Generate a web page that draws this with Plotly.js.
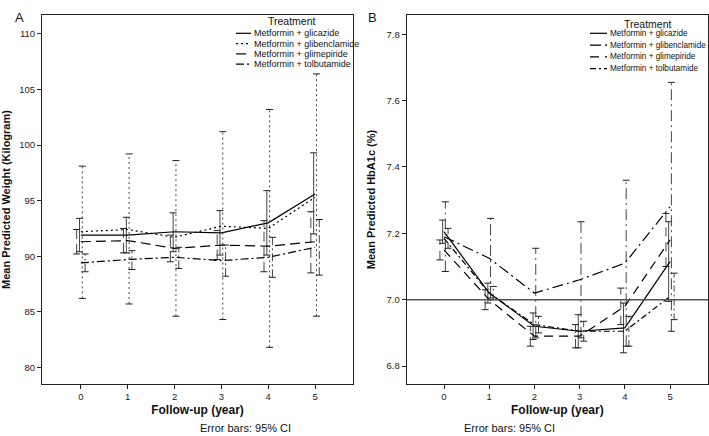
<!DOCTYPE html>
<html><head><meta charset="utf-8">
<script src="https://cdn.plot.ly/plotly-3.0.1.min.js"></script>
<style>html,body{margin:0;padding:0;background:#fff}#chart{width:709px;height:436px}</style>
</head><body><div id="chart"></div>
<script>
// ---------- data ----------
const years = [0, 1, 2, 3, 4, 5];
const yearLabels = ['0', '1', '2', '3', '4', '5'];
const treatments = ['Metformin + glicazide', 'Metformin + glibenclamide', 'Metformin + glimepiride', 'Metformin + tolbutamide'];

// Panel A: weight (kg)
const wGlicazide = [91.9, 91.9, 92.2, 92.1, 93.0, 95.6];
const wGlicazideLo = [90.4, 90.3, 90.4, 90.1, 90.1, 92.0];
const wGlicazideHi = [93.4, 93.5, 93.9, 94.1, 95.9, 99.3];
const wGlibenclamide = [92.2, 92.4, 91.7, 92.7, 92.5, 95.3];
const wGlibenclamideLo = [86.2, 85.7, 84.6, 84.3, 81.8, 84.6];
const wGlibenclamideHi = [98.1, 99.2, 98.6, 101.2, 103.2, 106.4];
const wGlimepiride = [91.3, 91.4, 90.7, 91.0, 90.9, 91.3];
const wGlimepirideLo = [90.2, 90.3, 89.5, 89.7, 88.6, 88.5];
const wGlimepirideHi = [92.4, 92.5, 91.9, 92.3, 93.2, 94.0];
const wTolbutamide = [89.4, 89.7, 89.9, 89.6, 89.9, 90.8];
const wTolbutamideLo = [88.6, 88.8, 88.9, 88.2, 88.1, 88.3];
const wTolbutamideHi = [90.2, 90.5, 90.8, 91.0, 91.7, 93.3];

// Panel B: HbA1c (%)
const hGlicazide = [7.205, 7.02, 6.92, 6.905, 6.915, 7.115];
const hGlicazideLo = [7.17, 6.99, 6.88, 6.855, 6.84, 6.995];
const hGlicazideHi = [7.24, 7.05, 6.96, 6.955, 6.99, 7.235];
const hGlibenclamide = [7.19, 7.125, 7.02, 7.06, 7.11, 7.28];
const hGlibenclamideLo = [7.085, 7.005, 6.885, 6.885, 6.86, 6.905];
const hGlibenclamideHi = [7.295, 7.245, 7.155, 7.235, 7.36, 7.655];
const hGlimepiride = [7.15, 7.0, 6.89, 6.89, 6.98, 7.18];
const hGlimepirideLo = [7.12, 6.97, 6.86, 6.855, 6.925, 7.1];
const hGlimepirideHi = [7.18, 7.03, 6.92, 6.925, 7.035, 7.26];
const hTolbutamide = [7.185, 7.02, 6.925, 6.905, 6.905, 7.01];
const hTolbutamideLo = [7.155, 7.0, 6.9, 6.875, 6.86, 6.94];
const hTolbutamideHi = [7.215, 7.04, 6.95, 6.935, 6.95, 7.08];
const hbRefLine = 7.0;

// ---------- styles ----------
const FONT = '"Liberation Sans", Arial, sans-serif';
const dodge = [-0.03, 0.03, -0.09, 0.09];
const dashA = ['solid', '2px,3px', '10px,5px', '8px,3px,2px,3px'];
const dashB = ['solid', '11px,4px,2px,4px', '9px,6px', '6px,3px,2px,3px'];
const errColor = '#444';

const panelA = [[wGlicazide, wGlicazideLo, wGlicazideHi], [wGlibenclamide, wGlibenclamideLo, wGlibenclamideHi],
                [wGlimepiride, wGlimepirideLo, wGlimepirideHi], [wTolbutamide, wTolbutamideLo, wTolbutamideHi]];
const panelB = [[hGlicazide, hGlicazideLo, hGlicazideHi], [hGlibenclamide, hGlibenclamideLo, hGlibenclamideHi],
                [hGlimepiride, hGlimepirideLo, hGlimepirideHi], [hTolbutamide, hTolbutamideLo, hTolbutamideHi]];

const traces = [];
function addPanel(data, dashes, xa, ya) {
  data.forEach((s, k) => {
    const [m, lo, hi] = s;
    const sx = [], sy = [], cx = [], cy = [];
    years.forEach((yr, i) => {
      sx.push(yr + dodge[k], yr + dodge[k], null); sy.push(lo[i], hi[i], null);
      cx.push(yr + dodge[k], yr + dodge[k]); cy.push(lo[i], hi[i]);
    });
    traces.push({x: sx, y: sy, xaxis: xa, yaxis: ya, mode: 'lines', showlegend: false, hoverinfo: 'skip',
      line: {color: errColor, width: 1, dash: dashes[k]}});
    traces.push({x: cx, y: cy, xaxis: xa, yaxis: ya, mode: 'markers', showlegend: false, hoverinfo: 'skip',
      marker: {symbol: 'line-ew', size: 5, line: {color: '#222', width: 1}}});
    traces.push({x: years, y: m, xaxis: xa, yaxis: ya, mode: 'lines', name: treatments[k], showlegend: false,
      line: {color: '#000', width: 1.2, dash: dashes[k]}});
  });
}
addPanel(panelA, dashA, 'x', 'y');
addPanel(panelB, dashB, 'x2', 'y2');

const W = 709, H = 436, mT = 15, mB = 52;
const PH = H - mT - mB;
const px = x => x / W;
const py = y => (H - mB - y) / PH;

const axisBase = {showline: true, mirror: true, linecolor: '#222', linewidth: 1, showgrid: false, zeroline: false,
  ticks: 'outside', ticklen: 4, tickcolor: '#222', tickfont: {family: FONT, size: 9.5, color: '#222'}};

const annotations = [];
const shapes = [];
function legend(tx, ty, sx0, sx1, textX, y0, dy, dashes, fs) {
  annotations.push({xref: 'paper', yref: 'paper', x: px(tx), y: py(ty), text: 'Treatment', showarrow: false,
    xanchor: 'center', yanchor: 'middle', font: {family: FONT, size: 10.5, color: '#111'}});
  treatments.forEach((t, k) => {
    const yy = y0 + dy * k;
    shapes.push({type: 'line', xref: 'paper', yref: 'paper', x0: px(sx0), x1: px(sx1), y0: py(yy), y1: py(yy),
      line: {color: '#000', width: 1.2, dash: dashes[k]}});
    annotations.push({xref: 'paper', yref: 'paper', x: px(textX), y: py(yy), text: t, showarrow: false,
      xanchor: 'left', yanchor: 'middle', font: {family: FONT, size: fs, color: '#111'}});
  });
}
legend(292, 21, 236, 251, 252, 33.3, 10.3, dashA, 9);
legend(648, 24, 590, 607, 608, 33.3, 11.8, dashB, 8.2);

shapes.push({type: 'line', xref: 'x2 domain', yref: 'y2', x0: 0, x1: 1, y0: hbRefLine, y1: hbRefLine,
  line: {color: '#555', width: 1.5}});

annotations.push({xref: 'paper', yref: 'paper', x: px(13), y: py(8), text: 'A', showarrow: false,
  font: {family: FONT, size: 13, color: '#111'}});
annotations.push({xref: 'paper', yref: 'paper', x: px(373), y: py(8), text: 'B', showarrow: false,
  font: {family: FONT, size: 13, color: '#111'}});
annotations.push({xref: 'paper', yref: 'paper', x: px(198), y: py(436), yanchor: 'bottom', text: 'Error bars: 95% CI', showarrow: false,
  font: {family: FONT, size: 11, color: '#111'}});
annotations.push({xref: 'paper', yref: 'paper', x: px(557), y: py(436), yanchor: 'bottom', text: 'Error bars: 95% CI', showarrow: false,
  font: {family: FONT, size: 11, color: '#111'}});

const titleFont = {family: FONT, size: 11, color: '#111', weight: 'bold'};
const xTitleFont = {family: FONT, size: 12, color: '#111', weight: 'bold'};

const layout = {
  width: W, height: H,
  margin: {l: 0, r: 0, t: mT, b: mB},
  paper_bgcolor: '#fff', plot_bgcolor: '#fff',
  showlegend: false,
  xaxis: Object.assign({}, axisBase, {domain: [42 / W, 353 / W], range: [-0.83, 5.81], tickvals: years, ticktext: yearLabels,
    title: {text: 'Follow-up (year)', font: xTitleFont, standoff: 4}}),
  yaxis: Object.assign({}, axisBase, {range: [78.5, 111.7], dtick: 5, tick0: 80,
    title: {text: 'Mean Predicted Weight (Kilogram)', font: titleFont, standoff: 8}}),
  xaxis2: Object.assign({}, axisBase, {domain: [406.7 / W, 708 / W], range: [-0.825, 5.84], tickvals: years, ticktext: yearLabels,
    anchor: 'y2', title: {text: 'Follow-up (year)', font: xTitleFont, standoff: 4}}),
  yaxis2: Object.assign({}, axisBase, {range: [6.746, 7.858], dtick: 0.2, tick0: 6.8, tickformat: '.1f', anchor: 'x2',
    title: {text: 'Mean Predicted HbA1c (%)', font: titleFont, standoff: 8}}),
  annotations: annotations,
  shapes: shapes
};

Plotly.newPlot('chart', traces, layout, {displayModeBar: false, staticPlot: true});
</script>
</body></html>
